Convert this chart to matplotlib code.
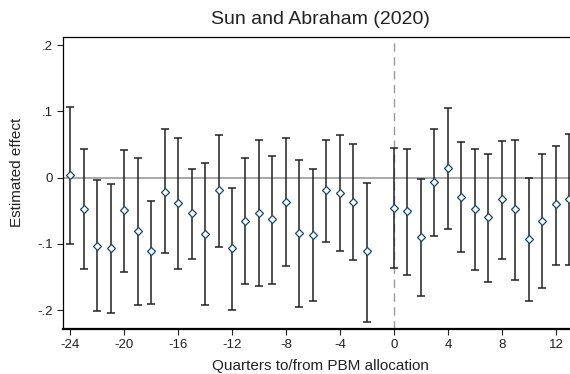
import numpy as np
import matplotlib
matplotlib.use("Agg")
import matplotlib.pyplot as plt

# event time (quarters relative to PBM allocation), -1 is the omitted reference
quarters = [-24, -23, -22, -21, -20, -19, -18, -17, -16, -15, -14, -13, -12,
            -11, -10, -9, -8, -7, -6, -5, -4, -3, -2,
            0, 1, 2, 3, 4, 5, 6, 7, 8, 9, 10, 11, 12, 13]
estimate = [0.004, -0.047, -0.103, -0.106, -0.049, -0.081, -0.111, -0.021, -0.039, -0.054, -0.085, -0.019, -0.106,
            -0.065, -0.053, -0.063, -0.037, -0.083, -0.087, -0.019, -0.023, -0.037, -0.111,
            -0.046, -0.051, -0.090, -0.006, 0.015, -0.030, -0.047, -0.060, -0.033, -0.047, -0.092, -0.065, -0.040, -0.033]
ci_upper = [0.107, 0.043, -0.004, -0.009, 0.041, 0.029, -0.036, 0.073, 0.060, 0.013, 0.022, 0.064, -0.015,
            0.030, 0.057, 0.033, 0.060, 0.027, 0.013, 0.057, 0.065, 0.051, -0.008,
            0.045, 0.043, -0.002, 0.074, 0.105, 0.053, 0.043, 0.036, 0.055, 0.057, 0.000, 0.036, 0.048, 0.066]
ci_lower = [-0.100, -0.138, -0.201, -0.204, -0.143, -0.193, -0.191, -0.114, -0.138, -0.123, -0.193, -0.104, -0.200,
            -0.161, -0.163, -0.161, -0.134, -0.195, -0.186, -0.097, -0.111, -0.125, -0.218,
            -0.137, -0.147, -0.179, -0.088, -0.077, -0.113, -0.139, -0.157, -0.123, -0.155, -0.186, -0.166, -0.132, -0.132]

x_ticks = [-24, -20, -16, -12, -8, -4, 0, 4, 8, 12]
y_ticks = [-0.2, -0.1, 0, 0.1, 0.2]
y_ticklabels = ["-.2", "-.1", "0", ".1", ".2"]

plt.rcParams['font.family'] = ['Liberation Sans', 'DejaVu Sans']

x = np.array(quarters)
est = np.array(estimate)
lo = est - np.array(ci_lower)
hi = np.array(ci_upper) - est

W, H = 570, 374
fig = plt.figure(figsize=(W / 100, H / 100), dpi=100)
ax = fig.add_axes([63 / W, 1 - 329 / H, 1 - 63 / W, (329 - 37) / H])

ax.axhline(0, color="#999999", lw=1.2, zorder=1)
ax.axvline(0, color="#999999", lw=1.0, ls=(0, (6, 4)), zorder=1)
ax.errorbar(x, est, yerr=[lo, hi], fmt="none", ecolor="#222222", elinewidth=1.1,
            capsize=3.0, capthick=1.1, zorder=2)
ax.plot(x, est, ls="none", marker="D", ms=4.2, mfc="white", mec="#1a476f",
        mew=0.9, zorder=3)

ax.set_xlim(-24.52, 13.04)
ax.set_ylim(-0.2285, 0.2122)
ax.set_xticks(x_ticks)
ax.set_xticklabels([str(t) for t in x_ticks])
ax.set_yticks(y_ticks)
ax.set_yticklabels(y_ticklabels)
ax.tick_params(axis="both", direction="out", length=4, width=0.8, labelsize=9.5, colors="#222222")

ax.spines["right"].set_visible(False)
ax.spines["top"].set_linewidth(0.9)
ax.spines["left"].set_linewidth(0.9)
ax.spines["bottom"].set_linewidth(1.6)

# labels placed in pixel terms of the figure
fig.text(320 / W, 1 - 366 / H, "Quarters to/from PBM allocation", fontsize=11,
         color="#222222", ha="center", va="center")
fig.text(17 / W, 1 - 172 / H, "Estimated effect", fontsize=11, color="#222222",
         rotation=90, ha="center", va="center")
fig.text(320 / W, 1 - 20 / H, "Sun and Abraham (2020)", fontsize=14,
         color="#222222", ha="center", va="center")

fig.savefig("out.png", dpi=100)
